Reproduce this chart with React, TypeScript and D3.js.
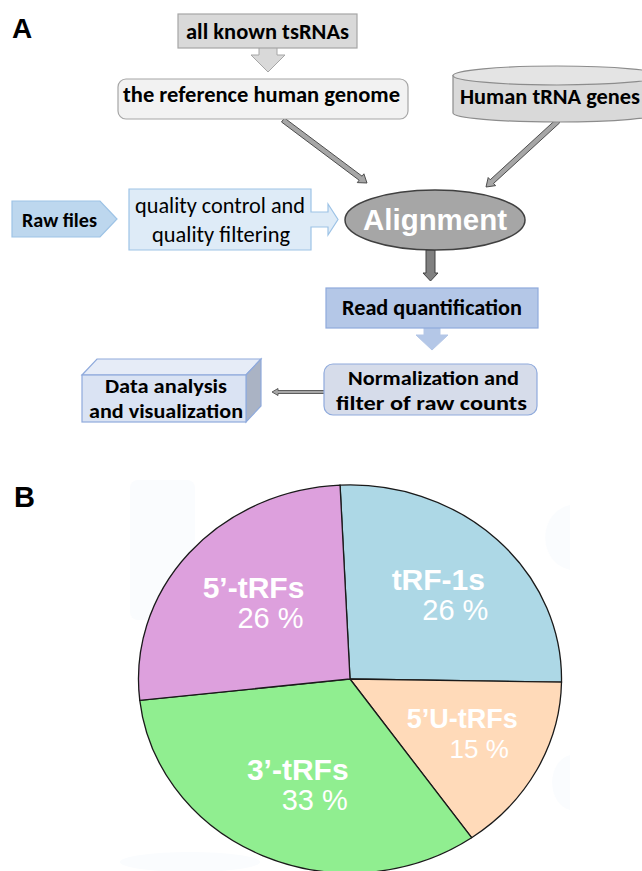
import * as d3 from 'd3';

// pie data (panel B)
const sliceNames = ['tRF-1s', '5\u2019U-tRFs', '3\u2019-tRFs', '5\u2019-tRFs'];
const sliceValues = [26, 15, 33, 26];
const sliceColors = ['#add8e6', '#ffdab9', '#90ee90', '#dda0dd'];

// flowchart labels (panel A)
const topLabels = ['all known tsRNAs', 'the reference human genome', 'Human tRNA genes'];
const inputLabels = ['Raw files', 'quality control and', 'quality filtering'];
const coreLabels = ['Alignment', 'Read quantification', 'Normalization and', 'filter of raw counts'];
const outputLabels = ['Data analysis', 'and visualization'];

const W = 642;
const H = 871;
const FLOW_FONT = "Carlito, Lato, 'Open Sans', sans-serif";
const ARIAL = "'Liberation Sans', Arial, Helvetica, sans-serif";

// block arrow polygon from p0 to p1
function blockArrow(x0: number, y0: number, x1: number, y1: number, sw: number, hw: number, hl: number) {
  const len = Math.hypot(x1 - x0, y1 - y0);
  const ux = (x1 - x0) / len;
  const uy = (y1 - y0) / len;
  const nx = -uy;
  const ny = ux;
  const bx = x1 - ux * hl;
  const by = y1 - uy * hl;
  const pts = [
    [x0 + (nx * sw) / 2, y0 + (ny * sw) / 2],
    [bx + (nx * sw) / 2, by + (ny * sw) / 2],
    [bx + (nx * hw) / 2, by + (ny * hw) / 2],
    [x1, y1],
    [bx - (nx * hw) / 2, by - (ny * hw) / 2],
    [bx - (nx * sw) / 2, by - (ny * sw) / 2],
    [x0 - (nx * sw) / 2, y0 - (ny * sw) / 2],
  ];
  return pts.map((p) => p.join(',')).join(' ');
}

function FlowText({ x, y, w, size, bold = true, children, fill = '#000', family = FLOW_FONT }: any) {
  return (
    <text
      x={x}
      y={y}
      textAnchor='middle'
      fontFamily={family}
      fontSize={size}
      fontWeight={bold ? 700 : 400}
      fill={fill}
      textLength={w}
      lengthAdjust='spacingAndGlyphs'
    >
      {children}
    </text>
  );
}

function Flowchart() {
  return (
    <g>
      <text x={12} y={38} fontFamily={ARIAL} fontWeight={700} fontSize={28}>
        A
      </text>

      {/* arrows behind boxes */}
      <polygon points={blockArrow(268, 47, 268, 72, 18, 34, 17)} fill='#d9d9d9' stroke='#a6a6a6' strokeWidth={1} />
      <polygon points={blockArrow(283, 120, 367, 183, 5, 11, 8)} fill='#a6a6a6' stroke='#3f3f3f' strokeWidth={0.9} />
      <polygon points={blockArrow(558, 121, 486, 187, 5, 11, 8)} fill='#a6a6a6' stroke='#3f3f3f' strokeWidth={0.9} />
      <polygon points={blockArrow(430.5, 250, 430.5, 281, 9, 15, 8)} fill='#808080' stroke='#404040' strokeWidth={1} />
      <polygon points={blockArrow(432, 328, 432, 350, 16, 32, 15)} fill='#b4c7e7' stroke='#b4c7e7' strokeWidth={1} />
      <polygon points={blockArrow(325, 392, 272, 392, 3, 7, 6)} fill='#a6a6a6' stroke='#404040' strokeWidth={0.8} />

      {/* top row */}
      <rect x={178} y={14} width={179} height={34} fill='#d9d9d9' stroke='#a6a6a6' strokeWidth={1.2} />
      <FlowText x={267.5} y={39} w={163} size={22}>
        {topLabels[0]}
      </FlowText>

      <rect x={118} y={79} width={290} height={40} rx={8} fill='#f2f2f2' stroke='#a6a6a6' strokeWidth={1.2} />
      <FlowText x={261.5} y={102} w={277} size={22}>
        {topLabels[1]}
      </FlowText>

      <path d='M453,75.5 L453,113 A104,9 0 0 0 661,113 L661,75.5 Z' fill='#d9d9d9' stroke='#8c8c8c' strokeWidth={1.2} />
      <ellipse cx={557} cy={75.5} rx={104} ry={9.5} fill='#e4e4e4' stroke='#8c8c8c' strokeWidth={1.2} />
      <FlowText x={550} y={104} w={180} size={22}>
        {topLabels[2]}
      </FlowText>

      {/* input row */}
      <polygon points='12,201 100,201 117,219 100,237 12,237' fill='#bdd7ee' stroke='#9dc3e6' strokeWidth={1.2} />
      <FlowText x={59.5} y={227} w={75} size={20}>
        {inputLabels[0]}
      </FlowText>

      <polygon
        points='129,189 311,189 311,212 328,212 328,204 338,219.5 328,235 328,227 311,227 311,250 129,250'
        fill='#deebf7'
        stroke='#9dc3e6'
        strokeWidth={1.2}
      />
      <FlowText x={220} y={213} w={170} size={22} bold={false}>
        {inputLabels[1]}
      </FlowText>
      <FlowText x={221} y={242} w={138} size={22} bold={false}>
        {inputLabels[2]}
      </FlowText>

      {/* core */}
      <ellipse cx={435} cy={220} rx={90} ry={30} fill='#a6a6a6' stroke='#404040' strokeWidth={1.5} />
      <FlowText x={435} y={230} w={144} size={29} fill='#fff' family={ARIAL}>
        {coreLabels[0]}
      </FlowText>

      <rect x={326} y={288} width={212} height={40} fill='#b4c7e7' stroke='#8faadc' strokeWidth={1.2} />
      <FlowText x={432} y={315} w={180} size={22}>
        {coreLabels[1]}
      </FlowText>

      <rect x={324} y={364} width={213} height={51} rx={9} fill='#d6dcea' stroke='#8faadc' strokeWidth={1.2} />
      <FlowText x={433.5} y={385} w={171} size={20}>
        {coreLabels[2]}
      </FlowText>
      <FlowText x={431.5} y={410} w={191} size={21}>
        {coreLabels[3]}
      </FlowText>

      {/* output 3D box */}
      <polygon points='82,375 97,359 261,359 246,375' fill='#e6ecf7' stroke='#8faadc' strokeWidth={1.2} />
      <polygon points='246,375 261,359 261,406 246,422' fill='#aab3c4' stroke='#8faadc' strokeWidth={1.2} />
      <rect x={82} y={375} width={164} height={47} fill='#dae3f3' stroke='#8faadc' strokeWidth={1.2} />
      <FlowText x={166} y={393} w={122} size={20}>
        {outputLabels[0]}
      </FlowText>
      <FlowText x={166} y={418} w={154} size={20}>
        {outputLabels[1]}
      </FlowText>
    </g>
  );
}

function PieChart() {
  const cx = 350;
  const cy = 679;
  const rx = 211.5;
  const ry = 194;
  const start = -0.0075 * 2 * Math.PI;

  const pie = d3
    .pie<number>()
    .sort(null)
    .startAngle(start)
    .endAngle(start + 2 * Math.PI);
  const arcs = pie(sliceValues);
  const arc = d3.arc<any>().innerRadius(0).outerRadius(1);
  const labelArc = d3.arc<any>().innerRadius(0.6 * 2).outerRadius(0);
  const total = d3.sum(sliceValues);

  return (
    <g>
      <text x={14} y={507} fontFamily={ARIAL} fontWeight={700} fontSize={29}>
        B
      </text>

      {/* faint background shapes from the original scan */}
      <g fill='#fafcfe'>
        <rect x={130} y={480} width={65} height={140} rx={8} />
        <path d='M570,505 A30,33 0 0 0 570,570 Z' />
        <path d='M570,755 A22,28 0 0 0 570,810 Z' />
        <ellipse cx={190} cy={862} rx={70} ry={10} />
      </g>

      <g transform={`translate(${cx},${cy}) scale(${rx},${ry})`}>
        {arcs.map((a, i) => (
          <path
            key={i}
            d={arc(a) as string}
            fill={sliceColors[i]}
            stroke='#1a1a1a'
            strokeWidth={1.3}
            vectorEffect='non-scaling-stroke'
          />
        ))}
      </g>

      {arcs.map((a, i) => {
        const [lx, ly] = labelArc.centroid(a);
        const px = cx + lx * rx;
        const py = cy + ly * ry;
        const small = a.data / total < 0.2;
        const pct = Math.round((a.data / total) * 100);
        return (
          <g key={i} fill='#fff' fontFamily={ARIAL} textAnchor='middle'>
            <text x={px} y={py - 5} fontWeight={700} fontSize={small ? 27 : 30}>
              {sliceNames[i]}
            </text>
            <text x={px + 17} y={py + 25} fontSize={small ? 26 : 29}>
              {`${pct} %`}
            </text>
          </g>
        );
      })}
    </g>
  );
}

export default function App() {
  return (
    <svg
      width={W}
      height={H}
      viewBox={`0 0 ${W} ${H}`}
      style={{ position: 'absolute', left: 0, top: 0, background: '#fff' }}
    >
      <rect width={W} height={H} fill='#fff' />
      <Flowchart />
      <PieChart />
    </svg>
  );
}
